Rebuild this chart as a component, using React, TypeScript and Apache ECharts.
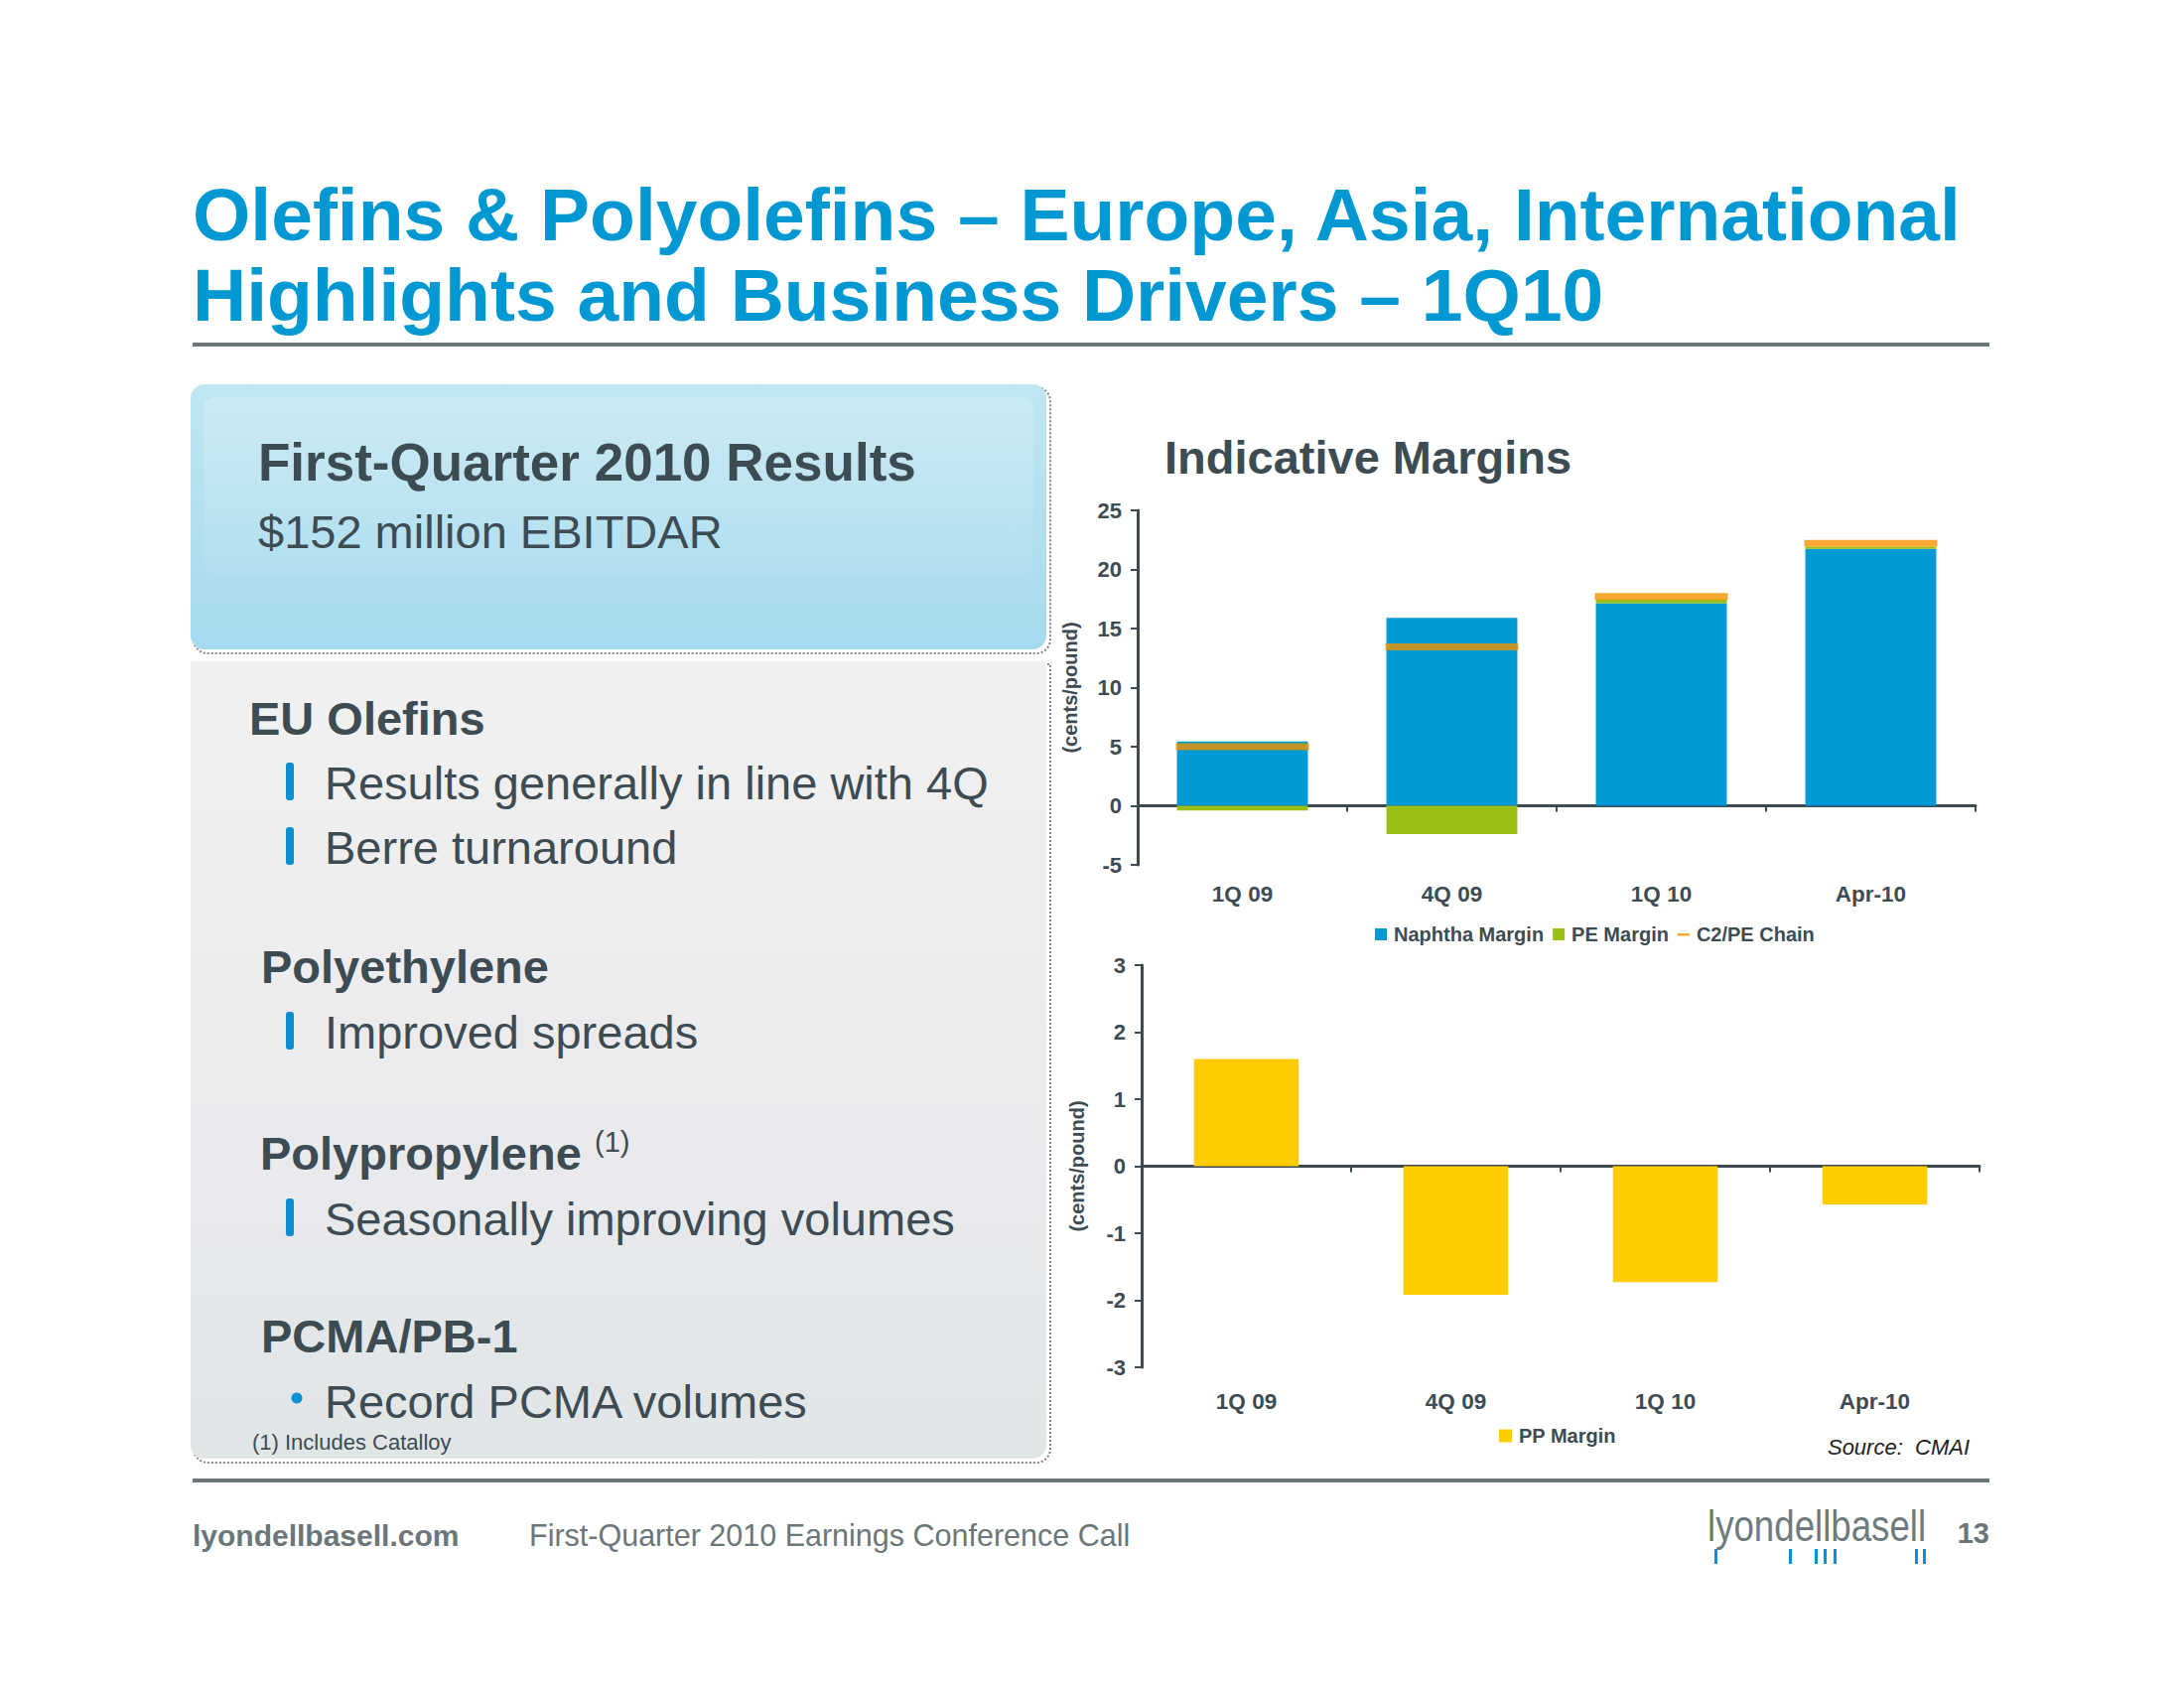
import React, { useEffect, useRef } from "react";
import * as echarts from "echarts";

// ---------- data ----------
const categories = ["1Q 09", "4Q 09", "1Q 10", "Apr-10"];
const naphthaMargin = [5.45, 15.9, 17.15, 21.75];
const peMargin = [-0.4, -2.4, 0.3, 0.17];
const c2peChain = [5.0, 13.45, 17.7, 22.2];
const ppMargin = [1.6, -1.92, -1.73, -0.57];
const topAxis = { min: -5, max: 25, interval: 5 };
const bottomAxis = { min: -3, max: 3, interval: 1 };

const titleLines = [
  "Olefins & Polyolefins \u2013 Europe, Asia, International",
  "Highlights and Business Drivers \u2013 1Q10",
];

// ---------- styles ----------
const FONT = "'Liberation Sans', Arial, Helvetica, sans-serif";
const DARK = "#3d4b53";
const AXIS = "#3c4a52";
const TITLE_BLUE = "#0098d2";
const RULE = "#6b7678";
const BULLET_BLUE = "#0a8fd0";

function txt(x: number, y: number, text: string, size: number, opts: any = {}) {
  return {
    type: "text",
    x,
    y,
    silent: true,
    style: {
      text,
      fill: opts.fill || DARK,
      fontFamily: FONT,
      fontSize: size,
      fontWeight: opts.weight || "normal",
      fontStyle: opts.style || "normal",
      align: opts.align || "left",
      verticalAlign: "middle",
    },
    ...(opts.scaleX ? { scaleX: opts.scaleX } : {}),
  };
}

function bar(x: number, y: number) {
  return {
    type: "rect",
    silent: true,
    shape: { x: x, y: y - 19, width: 8, height: 38, r: 3 },
    style: { fill: BULLET_BLUE },
  };
}

export default function App() {
  const ref = useRef<HTMLDivElement>(null);

  useEffect(() => {
    if (!ref.current) return;
    const chart = echarts.init(ref.current, null, { renderer: "svg" });

    const yLabelStyle = {
      fontFamily: FONT,
      fontSize: 22,
      fontWeight: "bold",
      color: DARK,
    };
    const xLabelStyle = {
      fontFamily: FONT,
      fontSize: 22.5,
      fontWeight: "bold",
      color: DARK,
    };
    const nameStyle = {
      fontFamily: FONT,
      fontSize: 20,
      fontWeight: "bold",
      color: DARK,
    };

    const graphic: any[] = [
      // title
      txt(194, 216, titleLines[0], 75, { weight: "bold", fill: TITLE_BLUE }),
      txt(194, 297, titleLines[1], 75, { weight: "bold", fill: TITLE_BLUE }),
      { type: "rect", silent: true, shape: { x: 194, y: 345, width: 1810, height: 4 }, style: { fill: RULE } },
      // footer rule
      { type: "rect", silent: true, shape: { x: 194, y: 1489, width: 1810, height: 4 }, style: { fill: RULE } },
      // blue results box (shadow + box)
      {
        type: "rect", silent: true,
        shape: { x: 195, y: 390, width: 863, height: 268, r: 14 },
        style: { fill: "none", stroke: "#7d8386", lineWidth: 2, lineDash: [2, 2] },
      },
      {
        type: "rect", silent: true,
        shape: { x: 192, y: 387, width: 862, height: 267, r: 14 },
        style: {
          fill: new echarts.graphic.LinearGradient(0, 0, 0, 1, [
            { offset: 0, color: "#bfe6f1" },
            { offset: 1, color: "#a6daee" },
          ]),
        },
      },
      {
        type: "rect", silent: true,
        shape: { x: 205, y: 400, width: 836, height: 180, r: 12 },
        style: {
          fill: new echarts.graphic.LinearGradient(0, 0, 0, 1, [
            { offset: 0, color: "rgba(255,255,255,0.2)" },
            { offset: 1, color: "rgba(255,255,255,0.04)" },
          ]),
        },
      },
      // grey bullet box (shadow + box)
      {
        type: "rect", silent: true,
        shape: { x: 195, y: 669, width: 863, height: 804, r: [0, 0, 14, 14] },
        style: { fill: "none", stroke: "#7d8386", lineWidth: 2, lineDash: [2, 2] },
      },
      {
        type: "rect", silent: true,
        shape: { x: 192, y: 666, width: 862, height: 803, r: [0, 0, 14, 14] },
        style: {
          fill: new echarts.graphic.LinearGradient(0, 0, 0, 1, [
            { offset: 0, color: "#f1f1f1" },
            { offset: 0.55, color: "#ebebee" },
            { offset: 1, color: "#e0e5e6" },
          ]),
        },
      },
      // box texts
      txt(260, 465, "First-Quarter 2010 Results", 53, { weight: "bold" }),
      txt(260, 535, "$152 million EBITDAR", 47),
      txt(251, 723, "EU Olefins", 47, { weight: "bold" }),
      bar(288, 787),
      txt(327, 788, "Results generally in line with 4Q", 47),
      bar(288, 852),
      txt(327, 853, "Berre turnaround", 47),
      txt(263, 973, "Polyethylene", 47, { weight: "bold" }),
      bar(288, 1038),
      txt(327, 1039, "Improved spreads", 47),
      txt(262, 1161, "Polypropylene", 47, { weight: "bold" }),
      txt(599, 1150, "(1)", 29),
      bar(288, 1226),
      txt(327, 1227, "Seasonally improving volumes", 47),
      txt(263, 1345, "PCMA/PB-1", 47, { weight: "bold" }),
      { type: "circle", silent: true, shape: { cx: 299, cy: 1408, r: 5.5 }, style: { fill: BULLET_BLUE } },
      txt(327, 1411, "Record PCMA volumes", 47),
      txt(254, 1452, "(1) Includes Catalloy", 22),
      // chart title
      txt(1173, 460, "Indicative Margins", 47, { weight: "bold" }),
      // source
      txt(1984, 1457, "Source:  CMAI", 22, { style: "italic", align: "right", fill: "#222" }),
      // footer
      txt(194, 1546, "lyondellbasell.com", 30, { weight: "bold", fill: RULE }),
      txt(533, 1546, "First-Quarter 2010 Earnings Conference Call", 30.5, { fill: RULE }),
      txt(1720, 1537, "lyondellbasell", 45, { fill: "#6f7a7d", scaleX: 0.815 }),
      txt(2004, 1544, "13", 29, { weight: "bold", fill: RULE, align: "right" }),
      ...[1727, 1802, 1828, 1837, 1847, 1929, 1937].map((x) => ({
        type: "rect", silent: true,
        shape: { x, y: 1560, width: 3, height: 15 },
        style: { fill: BULLET_BLUE },
      })),
    ];

    const option: any = {
      animation: false,
      backgroundColor: "#ffffff",
      textStyle: { fontFamily: FONT },
      grid: [
        { left: 1146, right: 210, top: 514, bottom: 829 },
        { left: 1150, right: 206, top: 972, bottom: 323 },
      ],
      legend: [
        {
          data: [
            { name: "Naphtha Margin", icon: "rect" },
            { name: "PE Margin", icon: "rect" },
            { name: "C2/PE Chain", icon: "path://M0,0L0.01,0M0,5h12v2.6h-12zM12,12L11.99,12" },
          ],
          left: 1385, top: 931, padding: 0,
          itemWidth: 12, itemHeight: 12, itemGap: 9,
          selectedMode: false,
          textStyle: { fontFamily: FONT, fontSize: 20, fontWeight: "bold", color: DARK, padding: [0, 0, 0, 2] },
        },
        {
          data: [{ name: "PP Margin", icon: "rect" }],
          left: 1510, top: 1436, padding: 0,
          itemWidth: 13, itemHeight: 13,
          selectedMode: false,
          textStyle: { fontFamily: FONT, fontSize: 20, fontWeight: "bold", color: DARK, padding: [0, 0, 0, 2] },
        },
      ],
      xAxis: [
        {
          gridIndex: 0, type: "category", data: categories, position: "bottom",
          axisLine: { show: false, onZero: false }, axisTick: { show: false },
          axisLabel: { ...xLabelStyle, margin: 18 },
        },
        {
          gridIndex: 0, type: "category", data: categories, position: "bottom",
          axisLine: { show: true, onZero: true, lineStyle: { color: AXIS, width: 3 } },
          axisTick: { show: true, length: 6, lineStyle: { color: AXIS, width: 2 } },
          axisLabel: { show: false },
        },
        {
          gridIndex: 1, type: "category", data: categories, position: "bottom",
          axisLine: { show: false, onZero: false }, axisTick: { show: false },
          axisLabel: { ...xLabelStyle, margin: 23 },
        },
        {
          gridIndex: 1, type: "category", data: categories, position: "bottom",
          axisLine: { show: true, onZero: true, lineStyle: { color: AXIS, width: 3 } },
          axisTick: { show: true, length: 6, lineStyle: { color: AXIS, width: 2 } },
          axisLabel: { show: false },
        },
      ],
      yAxis: [
        {
          gridIndex: 0, type: "value", ...topAxis,
          axisLine: { show: true, lineStyle: { color: AXIS, width: 3 } },
          axisTick: { show: true, length: 7, lineStyle: { color: AXIS, width: 2 } },
          splitLine: { show: false },
          axisLabel: { ...yLabelStyle, margin: 16 },
          name: "(cents/pound)", nameLocation: "middle", nameGap: 58, nameRotate: 90,
          nameTextStyle: nameStyle,
        },
        {
          gridIndex: 1, type: "value", ...bottomAxis,
          axisLine: { show: true, lineStyle: { color: AXIS, width: 3 } },
          axisTick: { show: true, length: 7, lineStyle: { color: AXIS, width: 2 } },
          splitLine: { show: false },
          axisLabel: { ...yLabelStyle, margin: 16 },
          name: "(cents/pound)", nameLocation: "middle", nameGap: 55, nameRotate: 90,
          nameTextStyle: nameStyle,
        },
      ],
      series: [
        {
          name: "Naphtha Margin", type: "bar", xAxisIndex: 0, yAxisIndex: 0,
          stack: "margins", data: naphthaMargin, barWidth: "62.5%",
          itemStyle: { color: "#0099d4" },
        },
        {
          name: "PE Margin", type: "bar", xAxisIndex: 0, yAxisIndex: 0,
          stack: "margins", data: peMargin, barWidth: "62.5%",
          itemStyle: { color: "#9cbf16" },
        },
        {
          name: "C2/PE Chain", type: "scatter", xAxisIndex: 0, yAxisIndex: 0,
          data: c2peChain, symbol: "rect", symbolSize: [134, 7], z: 5,
          itemStyle: { color: "#f29400" },
        },
        {
          name: "PP Margin", type: "bar", xAxisIndex: 2, yAxisIndex: 1,
          data: ppMargin, barWidth: "50%",
          itemStyle: { color: "#ffcc00" },
        },
      ],
      graphic,
    };

    chart.setOption(option);
    return () => chart.dispose();
  }, []);

  return (
    <div
      ref={ref}
      style={{ position: "absolute", left: 0, top: 0, width: 2200, height: 1700, background: "#fff" }}
    />
  );
}
